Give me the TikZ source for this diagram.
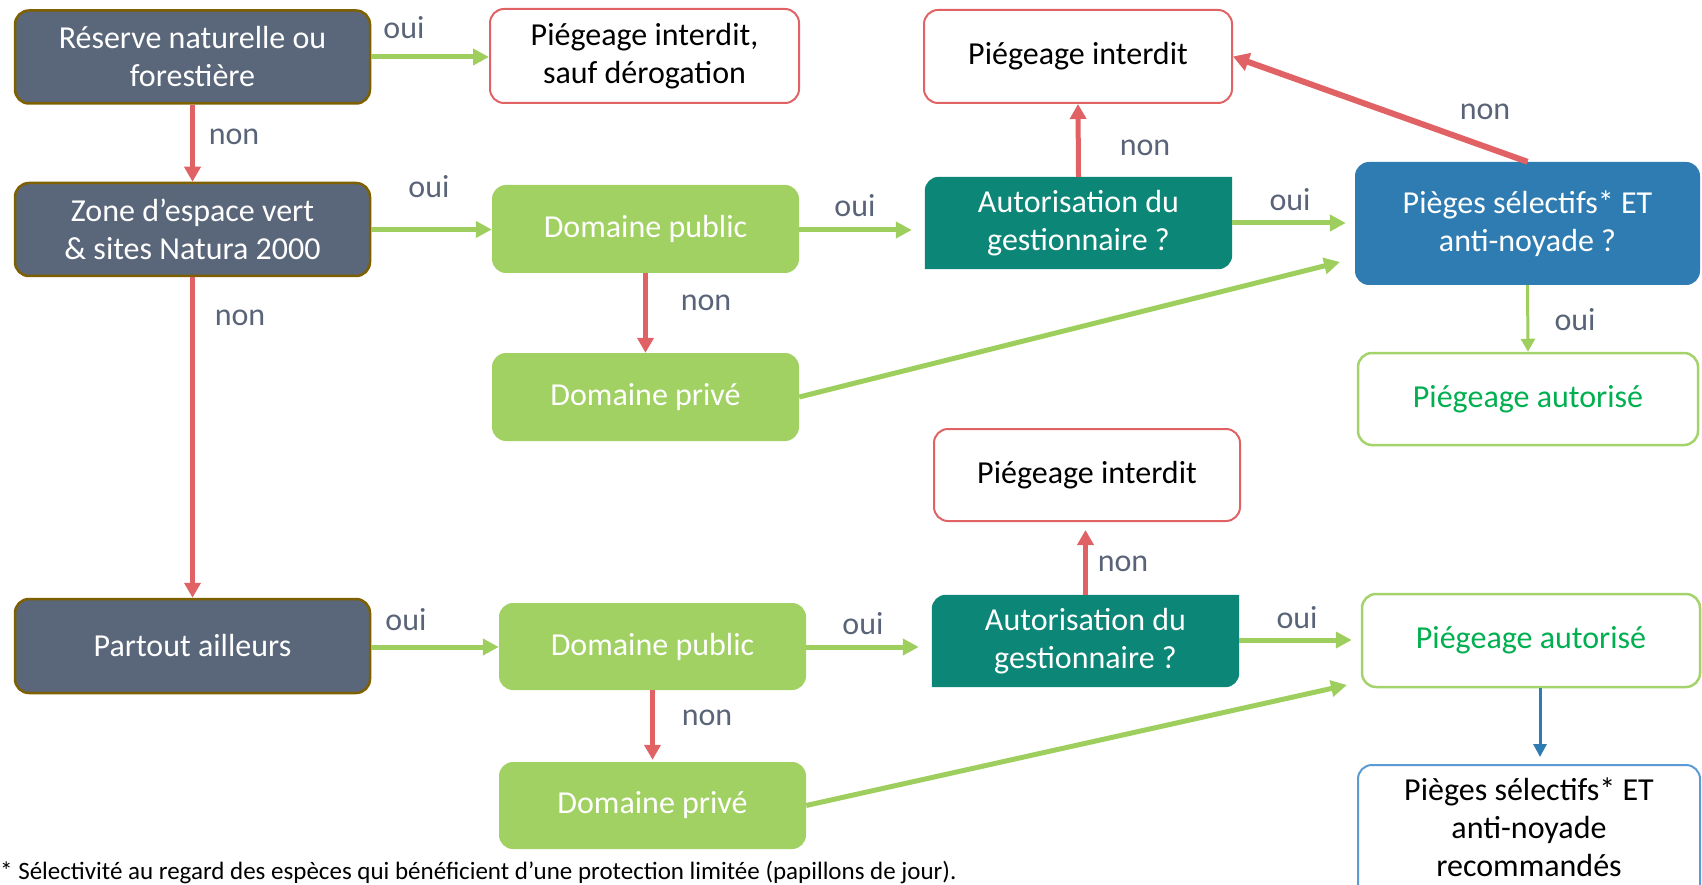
\documentclass[tikz,border=0pt]{standalone}
\usepackage{fontspec}
\setmainfont{Carlito}
\usetikzlibrary{arrows.meta,backgrounds,calc}
\definecolor{slate}{HTML}{5A677A}
\definecolor{brownb}{HTML}{7F6000}
\definecolor{greenf}{HTML}{A1D163}
\definecolor{greena}{HTML}{9ECF5E}
\definecolor{redc}{HTML}{E06264}
\definecolor{tealc}{HTML}{0B8677}
\definecolor{bluef}{HTML}{2E7CB1}
\definecolor{blueb}{HTML}{5B9BD5}
\definecolor{greent}{HTML}{00B050}
\definecolor{greenb}{HTML}{A3D36A}
\definecolor{lblc}{HTML}{5A6478}
\tikzset{
  box/.style={inner sep=0pt, align=center, rounded corners=14pt, font=\fontsize{32}{38}\selectfont},
  darkbox/.style={box, fill=slate, draw=brownb, line width=2.5pt, text=white, minimum width=355pt, minimum height=93pt},
  greenbox/.style={box, fill=greenf, text=white, minimum width=307pt, minimum height=88pt},
  redbox/.style={box, fill=white, draw=redc, line width=2pt, text=black, minimum width=307pt, minimum height=93pt},
  tealbox/.style={box, text=white, minimum width=307pt, minimum height=92pt},
  bluebox/.style={box, fill=bluef, text=white, minimum width=345pt, minimum height=123pt},
  okbox/.style={box, fill=white, draw=greenb, line width=2.5pt, text=greent, minimum width=340pt, minimum height=92pt},
  recbox/.style={box, fill=white, draw=blueb, line width=2pt, text=black, minimum width=342pt, minimum height=136pt},
  lbl/.style={inner sep=0pt, text=lblc, font=\fontsize{32}{38}\selectfont},
  garr/.style={draw=greena, line width=5pt, -{Triangle[length=16pt,width=16pt]}},
  garrthin/.style={draw=greena, line width=3pt, -{Triangle[length=13pt,width=14pt]}},
  rarr/.style={draw=redc, line width=5pt, -{Triangle[length=15pt,width=16pt]}},
  rarrthick/.style={draw=redc, line width=6pt, -{Triangle[length=16pt,width=18pt]}},
  barr/.style={draw=bluef, line width=3pt, -{Triangle[length=13pt,width=13pt]}},
}
\begin{document}
\begin{tikzpicture}[x=1pt,y=1pt]
\useasboundingbox (0,0) rectangle (1702,-885);
% boxes
\node[darkbox] (res) at (192.5,-57) {Réserve naturelle ou\\forestière};
\node[redbox, minimum width=309pt, minimum height=94pt] (pisd) at (644.5,-56) {Piégeage interdit,\\sauf dérogation};
\node[darkbox] (zone) at (192.5,-229.5) {Zone d’espace vert\\\& sites Natura 2000};
\node[greenbox] (dp1) at (645.5,-229) {Domaine public};
\node[greenbox] (dv1) at (645.5,-397) {Domaine privé};
\node[redbox, minimum width=308pt] (pi1) at (1078,-56.5) {Piégeage interdit};
\node[tealbox] (aut1) at (1078.5,-223) {Autorisation du\\gestionnaire ?};
\node[bluebox] (pieg) at (1527.5,-223.5) {Pièges sélectifs* ET\\anti-noyade ?};
\node[okbox] (pa1) at (1528,-399) {Piégeage autorisé};
\node[redbox, minimum width=306pt, minimum height=92pt] (pi2) at (1087,-475) {Piégeage interdit};
\node[darkbox, minimum height=94pt] (part) at (192.5,-646) {Partout ailleurs};
\node[greenbox, minimum height=87pt] (dp2) at (652.5,-646.5) {Domaine public};
\node[greenbox, minimum height=87pt] (dv2) at (652.5,-805.5) {Domaine privé};
\node[tealbox] (aut2) at (1085.5,-641) {Autorisation du\\gestionnaire ?};
\node[okbox, minimum width=338pt, minimum height=93pt] (pa2) at (1531,-640.5) {Piégeage autorisé};
\node[recbox, text depth=12pt] (rec) at (1529,-833) {Pièges sélectifs* ET\\anti-noyade\\recommandés};
\begin{scope}[on background layer]
\foreach \a in {aut1,aut2}{
  \fill[tealc] (\a.south west) -- ([yshift=-14pt]\a.north west) arc[start angle=180,end angle=90,radius=14pt]
    -- (\a.north east) -- ([yshift=14pt]\a.south east) arc[start angle=0,end angle=-90,radius=14pt] -- cycle;
}
\end{scope}
% footnote
\node[inner sep=0pt, anchor=base west, font=\fontsize{25}{30}\selectfont, text=black] (fn) at (0,-879) {* Sélectivité au regard des espèces qui bénéficient d’une protection limitée (papillons de jour).};
% connectors
\draw[garr] (res.east) -- (pisd.west |- res.east);
\draw[rarr] (res.south) -- (zone.north);
\draw[garr] (zone.east) -- (dp1.west |- zone.east);
\draw[rarr] (zone.south) -- (part.north);
\draw[garr, shorten >=13pt] ($(dp1.east)+(0,-1)$) -- ($(aut1.west |- dp1.east)+(0,-1)$);
\draw[rarr] (dp1.south) -- (dv1.north);
\draw[rarr] (aut1.north) -- (pi1.south);
\draw[garr, shorten >=9pt] (aut1.east) -- (pieg.west |- aut1.east);
\draw[rarrthick] (pieg.north) -- (pi1.east);
\coordinate (e1) at (1340,-262);
\draw[garr] (dv1.east) -- (e1);
\draw[garrthin] (pieg.south) -- (pa1.north);
\draw[garr] ($(part.east)+(0,-1)$) -- ($(dp2.west |- part.east)+(0,-1)$);
\draw[garr, shorten >=13pt] ($(dp2.east)+(0,-0.5)$) -- ($(aut2.west |- dp2.east)+(0,-0.5)$);
\draw[rarr] (dp2.south) -- ($(dv2.north)+(0,2)$);
\draw[rarr, shorten >=8pt] (aut2.north) -- (pi2.south -| aut2.north);
\draw[garr, shorten >=9pt] ($(aut2.east)+(0,1)$) -- ($(pa2.west |- aut2.east)+(0,1)$);
\coordinate (e2) at (1347,-685);
\draw[garr] (dv2.east) -- (e2);
\draw[barr, shorten >=7pt] ([xshift=9pt]pa2.south) -- ([xshift=9pt]pa2.south |- rec.north);
% labels
\node[lbl] (l1) at (404,-28) {oui};
\node[lbl] (l2) at (234,-137) {non};
\node[lbl] (l3) at (429,-187) {oui};
\node[lbl] (l4) at (240,-318) {non};
\node[lbl] (l5) at (706,-303) {non};
\node[lbl] (l6) at (855,-206) {oui};
\node[lbl] (l7) at (1145,-148) {non};
\node[lbl] (l8) at (1290,-200) {oui};
\node[lbl] (l9) at (1485,-112) {non};
\node[lbl] (l10) at (1575,-320) {oui};
\node[lbl] (l11) at (406,-620) {oui};
\node[lbl] (l12) at (707,-718) {non};
\node[lbl] (l13) at (863,-624) {oui};
\node[lbl] (l14) at (1123,-564) {non};
\node[lbl] (l15) at (1297,-618) {oui};
\end{tikzpicture}
\end{document}
